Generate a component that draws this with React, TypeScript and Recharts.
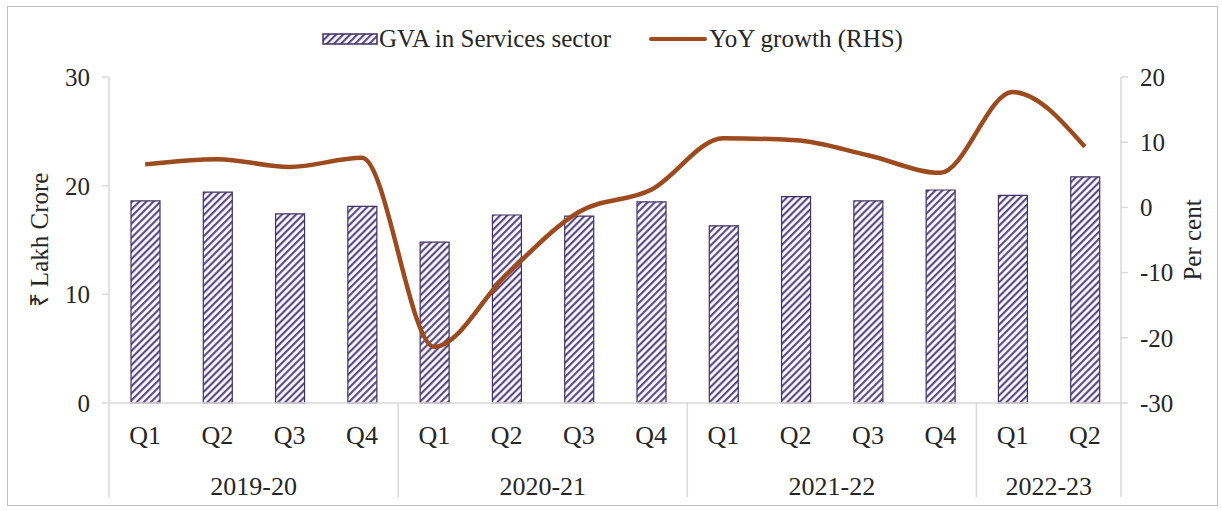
import { ComposedChart, Bar, Line, XAxis, YAxis } from 'recharts';

const quarters = ['Q1', 'Q2', 'Q3', 'Q4', 'Q1', 'Q2', 'Q3', 'Q4', 'Q1', 'Q2', 'Q3', 'Q4', 'Q1', 'Q2'];
const fiscalYears = [
  '2019-20', '2019-20', '2019-20', '2019-20',
  '2020-21', '2020-21', '2020-21', '2020-21',
  '2021-22', '2021-22', '2021-22', '2021-22',
  '2022-23', '2022-23',
];
const gvaServices = [18.6, 19.4, 17.4, 18.1, 14.8, 17.3, 17.2, 18.5, 16.3, 19.0, 18.6, 19.6, 19.1, 20.8];
const yoyGrowth = [6.6, 7.4, 6.2, 7.6, -21.4, -10.3, -0.7, 2.7, 10.6, 10.3, 8.0, 5.3, 17.7, 9.3];
const leftTicks = [0, 10, 20, 30];
const rightTicks = [-30, -20, -10, 0, 10, 20];

const data = quarters.map((q, i) => ({
  key: `${fiscalYears[i]} ${q}`,
  quarter: q,
  year: fiscalYears[i],
  gva: gvaServices[i],
  growth: yoyGrowth[i],
}));

const FONT = '"Liberation Serif", "Times New Roman", serif';
const TEXT = '#262626';
const AXIS = '#d9d9d9';
const LINE = '#9c4a1e';
const BAR_EDGE = '#3f325f';

function StripeDefs({ id }: { id: string }) {
  return (
    <defs>
      <pattern id={id} patternUnits="userSpaceOnUse" width="5" height="5" patternTransform="rotate(45)">
        <rect width="5" height="5" fill="#ffffff" />
        <rect width="2.2" height="5" fill="#5b4b8b" />
      </pattern>
    </defs>
  );
}

function QuarterTick(props: any) {
  const { x, y, payload, index } = props;
  const half = payload?.offset ?? 36.1;
  const yr = fiscalYears[index];
  const first = fiscalYears.indexOf(yr);
  const last = fiscalYears.lastIndexOf(yr);
  const isFirst = index === first;
  const isLast = index === fiscalYears.length - 1;
  const yearX = x + ((first + last) / 2 - index) * half * 2;
  return (
    <g>
      <text x={x} y={y + 41} textAnchor="middle" fontFamily={FONT} fontSize={26} fill={TEXT}>
        {quarters[index]}
      </text>
      {isFirst && (
        <>
          <line x1={x - half} x2={x - half} y1={y} y2={y + 94} stroke={AXIS} strokeWidth={1.5} />
          <text x={yearX} y={y + 92} textAnchor="middle" fontFamily={FONT} fontSize={26} fill={TEXT}>
            {yr}
          </text>
        </>
      )}
      {isLast && <line x1={x + half} x2={x + half} y1={y} y2={y + 94} stroke={AXIS} strokeWidth={1.5} />}
    </g>
  );
}

export default function App() {
  return (
    <div style={{ position: 'absolute', left: 0, top: 0, width: 1222, height: 511, background: '#fff' }}>
      <div
        style={{
          position: 'absolute',
          left: 7,
          top: 6,
          width: 1211,
          height: 500,
          border: '1.5px solid #bfbfbf',
          boxSizing: 'border-box',
        }}
      />
      <div
        style={{
          position: 'absolute',
          left: 322,
          top: 25,
          display: 'flex',
          alignItems: 'center',
          fontFamily: FONT,
          fontSize: 25,
          color: TEXT,
          whiteSpace: 'nowrap',
        }}
      >
        <svg width={56} height={12} style={{ marginRight: 1 }}>
          <StripeDefs id="legendStripe" />
          <rect x={1} y={1} width={54} height={10} fill="url(#legendStripe)" stroke={BAR_EDGE} strokeWidth={1.5} />
        </svg>
        <span>GVA in Services sector</span>
        <svg width={58} height={12} style={{ marginLeft: 38, marginRight: 2 }}>
          <line x1={2} x2={56} y1={6} y2={6} stroke={LINE} strokeWidth={4} strokeLinecap="round" />
        </svg>
        <span>YoY growth (RHS)</span>
      </div>
      <div style={{ position: 'absolute', left: 0, top: 0 }}>
        <ComposedChart width={1222} height={511} data={data} margin={{ top: 77, right: 0, bottom: 0, left: 0 }}>
          <StripeDefs id="barStripe" />
          <XAxis
            dataKey="key"
            height={108}
            tick={<QuarterTick />}
            tickLine={false}
            tickSize={0}
            tickMargin={0}
            interval={0}
            stroke={AXIS}
            strokeWidth={1.5}
          />
          <YAxis
            yAxisId="left"
            width={109}
            domain={[0, 30]}
            ticks={leftTicks}
            tickSize={7}
            tickMargin={12}
            stroke={AXIS}
            strokeWidth={1.5}
            tick={{ fontFamily: FONT, fontSize: 25, fill: TEXT }}
            label={{
              content: (p: any) => {
                const vb = p.viewBox || { x: 0, y: 77, height: 326 };
                const cx = 39;
                const cy = vb.y + vb.height / 2;
                return (
                  <text
                    x={cx}
                    y={cy}
                    transform={`rotate(-90 ${cx} ${cy})`}
                    textAnchor="middle"
                    dominantBaseline="central"
                    fontFamily={FONT}
                    fontSize={25}
                    fill={TEXT}
                  >
                    ₹ Lakh Crore
                  </text>
                );
              },
            }}
          />
          <YAxis
            yAxisId="right"
            orientation="right"
            width={101}
            domain={[-30, 20]}
            ticks={rightTicks}
            tickSize={7}
            tickMargin={12}
            stroke={AXIS}
            strokeWidth={1.5}
            tick={{ fontFamily: FONT, fontSize: 25, fill: TEXT, textAnchor: 'start' }}
            label={{
              content: (p: any) => {
                const vb = p.viewBox || { x: 1121, y: 77, height: 326 };
                const cx = 1192;
                const cy = vb.y + vb.height / 2;
                return (
                  <text
                    x={cx}
                    y={cy}
                    transform={`rotate(-90 ${cx} ${cy})`}
                    textAnchor="middle"
                    dominantBaseline="central"
                    fontFamily={FONT}
                    fontSize={25}
                    fill={TEXT}
                  >
                    Per cent
                  </text>
                );
              },
            }}
          />
          <Bar
            yAxisId="left"
            dataKey="gva"
            barSize={29}
            fill="url(#barStripe)"
            stroke={BAR_EDGE}
            strokeWidth={1.2}
            isAnimationActive={false}
          />
          <Line
            yAxisId="right"
            type="monotone"
            dataKey="growth"
            stroke={LINE}
            strokeWidth={4.5}
            dot={false}
            activeDot={false}
            isAnimationActive={false}
          />
        </ComposedChart>
      </div>
    </div>
  );
}
